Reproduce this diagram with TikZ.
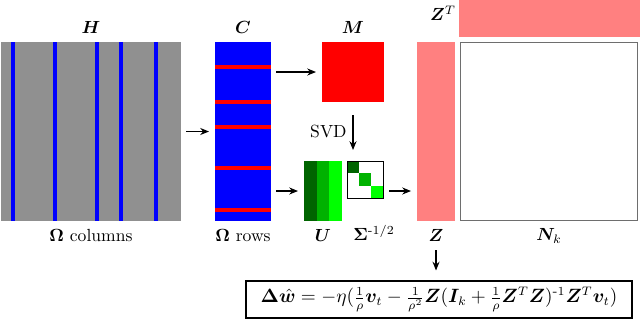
\documentclass[tikz,border=0pt]{standalone}
\usepackage{amsmath}
\usepackage{bm}
\usetikzlibrary{arrows.meta,positioning,calc}
\definecolor{hgray}{RGB}{144,144,144}
\definecolor{zpink}{RGB}{255,128,128}
\definecolor{gdark}{RGB}{0,100,0}
\definecolor{gmid}{RGB}{0,178,0}
\definecolor{glight}{RGB}{0,255,0}
\definecolor{nkgray}{RGB}{110,110,110}

\begin{document}
\begin{tikzpicture}[
    mat/.style={rectangle, inner sep=0pt, outer sep=0pt},
    lbl/.style={inner sep=1pt},
    arr/.style={-{Stealth[length=5pt,width=4pt]}, semithick},
    hstripe/.style={blue, line width=2.2pt},
    cstripe/.style={red, line width=2.2pt}
  ]
    \useasboundingbox (0,0) rectangle (12.8,-6.46);

    % matrices
    \node[mat, fill=hgray, minimum width=3.6cm, minimum height=3.58cm] (H) at (1.82,-2.63) {};
    \node[mat, fill=blue, minimum width=1.12cm, minimum height=3.58cm] (C) at (4.86,-2.63) {};
    \node[mat, fill=red, minimum width=1.24cm, minimum height=1.2cm] (M) at (7.06,-1.44) {};
    \node[mat, fill=glight, minimum width=0.76cm, minimum height=1.2cm] (U) at (6.46,-3.82) {};
    \node[mat, draw=black, thin, fill=white, minimum width=0.72cm, minimum height=0.74cm] (Sg) at (7.30,-3.59) {};
    \node[mat, fill=zpink, minimum width=0.76cm, minimum height=3.58cm] (Z) at (8.72,-2.63) {};
    \node[mat, fill=zpink, minimum width=3.62cm, minimum height=0.74cm] (ZT) at (10.99,-0.37) {};
    \node[mat, draw=nkgray, line width=1.1pt, fill=white, minimum width=3.54cm, minimum height=3.56cm] (N) at (10.98,-2.63) {};

    % sampled columns / rows
    \foreach \x in {0.24,1.08,1.92,2.40,3.10}
      \draw[hstripe] ($(H.north west)+(\x,0)$) -- ($(H.south west)+(\x,0)$);
    \foreach \y in {0.50,1.20,1.70,2.52,3.36}
      \draw[cstripe] ($(C.north west)+(0,-\y)$) -- ($(C.north east)+(0,-\y)$);

    % U bands and diagonal of Sigma
    \fill[gdark] (U.north west) rectangle ($(U.south west)+(0.253,0)$);
    \fill[gmid] ($(U.north west)+(0.253,0)$) rectangle ($(U.south west)+(0.507,0)$);
    \fill[gdark] (Sg.north west) rectangle ($(Sg.north west)+(0.24,-0.247)$);
    \fill[gmid] ($(Sg.north west)+(0.24,-0.247)$) rectangle ($(Sg.north west)+(0.48,-0.493)$);
    \fill[glight] ($(Sg.north west)+(0.48,-0.493)$) rectangle (Sg.south east);
    \draw[thin] (Sg.north west) rectangle (Sg.south east);

    % labels
    \node[lbl, above=0.12cm of H] (Hlab) {$\bm{H}$};
    \node[lbl, above=0.12cm of C] (Clab) {$\bm{C}$};
    \node[lbl, above=0.12cm of M] (Mlab) {$\bm{M}$};
    \node[lbl, below=0.12cm of H] (Hbot) {$\bm{\Omega}$ columns};
    \node[lbl, below=0.12cm of C] (Cbot) {$\bm{\Omega}$ rows};
    \node[lbl, below=0.12cm of U] (Ulab) {$\bm{U}$};
    \node[lbl] (Slab) at ($(Ulab.center -| Sg.south)+(0.18,0.05)$) {$\bm{\Sigma}^{\text{-}1/2}$};
    \node[lbl, below=0.12cm of Z] (Zlab) {$\bm{Z}$};
    \node[lbl, below=0.12cm of N] (Nlab) {$\bm{N}_k$};
    \node[lbl, left=0.02cm of ZT, yshift=0.1cm] (ZTlab) {$\bm{Z}^T$};

    % update formula
    \node[draw=black, semithick, minimum width=7.72cm, minimum height=0.74cm,
          font=\fontsize{10.5}{12}\selectfont] (F) at (8.78,-5.99)
      {$\bm{\Delta}\hat{\bm{w}} = -\eta(\frac{1}{\rho}\bm{v}_t - \frac{1}{\rho^2}\bm{Z}(\bm{I}_k + \frac{1}{\rho}\bm{Z}^T\bm{Z})^{\text{-}1}\bm{Z}^T\bm{v}_t)$};

    % arrows
    \draw[arr, shorten <=0.1cm, shorten >=0.12cm] (H.east) -- (C.west);
    \draw[arr, shorten <=0.1cm, shorten >=0.12cm] (C.east |- M.west) -- (M.west);
    \draw[arr, shorten <=0.1cm, shorten >=0.12cm] (C.east |- U.west) -- (U.west);
    \draw[arr, shorten <=0.26cm, shorten >=0.22cm] (M.south) -- (M.south |- Sg.north)
      node[midway, left, name=svd] {SVD};
    \draw[arr, shorten <=0.12cm, shorten >=0.12cm] (Sg.east |- U.east) -- (Z.west |- U.east);
    \draw[arr, shorten <=0.14cm, shorten >=0.2cm] (Zlab.south) -- (Zlab.south |- F.north);
  \end{tikzpicture}
\end{document}
